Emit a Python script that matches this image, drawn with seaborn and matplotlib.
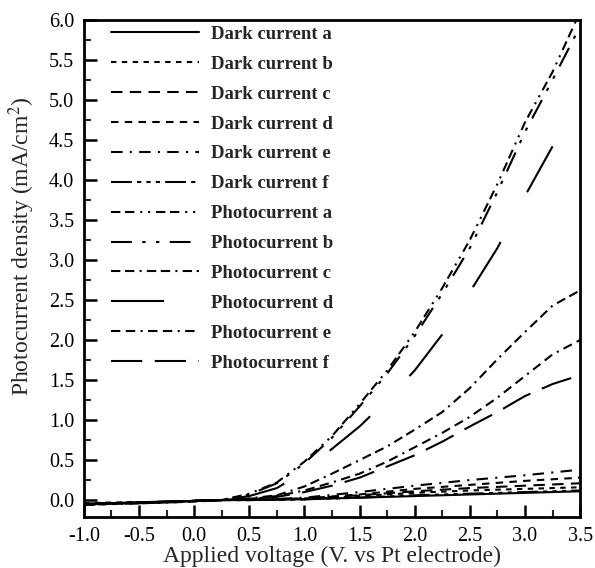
import matplotlib
matplotlib.use("Agg")
import matplotlib.pyplot as plt
from matplotlib.ticker import MultipleLocator
import numpy as np
import pandas as pd
import seaborn as sns

# Applied voltage (V vs Pt electrode)
voltage = [-1.0, -0.75, -0.5, -0.25, 0.0, 0.25, 0.5, 0.75, 1.0, 1.25,
           1.5, 1.75, 2.0, 2.25, 2.5, 2.75, 3.0, 3.25, 3.5]

# Dark current densities (mA/cm2)
dark_a = [-0.05, -0.04, -0.03, -0.02, -0.01, 0.0, 0.0, 0.005, 0.01, 0.02,
          0.03, 0.04, 0.05, 0.06, 0.07, 0.08, 0.09, 0.10, 0.11]
dark_b = [-0.04, -0.03, -0.025, -0.02, -0.01, 0.0, 0.0, 0.005, 0.01, 0.03,
          0.05, 0.07, 0.09, 0.105, 0.12, 0.13, 0.14, 0.15, 0.16]
dark_c = [-0.06, -0.045, -0.035, -0.02, -0.01, 0.0, 0.005, 0.01, 0.02, 0.04,
          0.06, 0.085, 0.11, 0.13, 0.15, 0.165, 0.18, 0.195, 0.21]
dark_d = [-0.05, -0.04, -0.03, -0.02, -0.01, 0.0, 0.005, 0.01, 0.02, 0.045,
          0.07, 0.105, 0.14, 0.165, 0.19, 0.215, 0.24, 0.26, 0.28]
dark_e = [-0.06, -0.05, -0.035, -0.025, -0.01, 0.0, 0.005, 0.015, 0.03, 0.065,
          0.10, 0.14, 0.18, 0.215, 0.25, 0.28, 0.31, 0.345, 0.38]
dark_f = [-0.05, -0.04, -0.03, -0.02, -0.01, 0.0, 0.0, 0.005, 0.01, 0.02,
          0.03, 0.045, 0.06, 0.07, 0.08, 0.09, 0.10, 0.11, 0.12]

# Photocurrent densities under illumination (mA/cm2)
photo_a = [-0.06, -0.05, -0.04, -0.03, -0.02, 0.0, 0.08, 0.22, 0.48, 0.80,
           1.20, 1.62, 2.10, 2.65, 3.25, 3.95, 4.72, 5.35, 6.10]
photo_b = [-0.05, -0.045, -0.035, -0.025, -0.015, 0.0, 0.07, 0.21, 0.46, 0.78,
           1.17, 1.58, 2.05, 2.58, 3.15, 3.85, 4.60, 5.25, 5.92]
photo_c = [-0.05, -0.04, -0.03, -0.02, -0.01, 0.0, 0.02, 0.06, 0.17, 0.33,
           0.50, 0.67, 0.88, 1.10, 1.40, 1.76, 2.10, 2.43, 2.62]
photo_d = [-0.06, -0.05, -0.04, -0.03, -0.02, 0.0, 0.05, 0.15, 0.36, 0.64,
           0.92, 1.25, 1.62, 2.07, 2.60, 3.15, 3.80, 4.42, np.nan]
photo_e = [-0.05, -0.04, -0.03, -0.02, -0.01, 0.0, 0.015, 0.05, 0.12, 0.22,
           0.33, 0.48, 0.66, 0.84, 1.04, 1.28, 1.55, 1.82, 2.00]
photo_f = [-0.05, -0.04, -0.03, -0.02, -0.01, 0.0, 0.015, 0.04, 0.10, 0.18,
           0.28, 0.42, 0.56, 0.73, 0.92, 1.10, 1.30, 1.45, 1.56]

labels = ["Dark current a", "Dark current b", "Dark current c",
          "Dark current d", "Dark current e", "Dark current f",
          "Photocurrent a", "Photocurrent b", "Photocurrent c",
          "Photocurrent d", "Photocurrent e", "Photocurrent f"]
series = [dark_a, dark_b, dark_c, dark_d, dark_e, dark_f,
          photo_a, photo_b, photo_c, photo_d, photo_e, photo_f]

frames = []
for lab, vals in zip(labels, series):
    frames.append(pd.DataFrame({"voltage": voltage, "current": vals, "curve": lab}))
df = pd.concat(frames, ignore_index=True).dropna()

dash_styles = {
    "Dark current a": "",
    "Dark current b": (2.6, 2.6),
    "Dark current c": (5.5, 3.5),
    "Dark current d": (3.6, 3.0),
    "Dark current e": (5.5, 3.5, 1.0, 3.5),
    "Dark current f": (10, 2.5, 2.0, 2.5, 2.0, 2.5, 2.0, 2.5),
    "Photocurrent a": (4.5, 2.2, 4.5, 2.8, 1.0, 2.8, 1.0, 2.8),
    "Photocurrent b": (10, 5, 1.6, 5, 1.6, 5),
    "Photocurrent c": (4.5, 2.2, 4.5, 2.5, 1.0, 2.5),
    "Photocurrent d": (25.5, 27),
    "Photocurrent e": (4.5, 2.6, 4.5, 2.6, 1.0, 2.6),
    "Photocurrent f": (15, 6),
}

sns.set_theme(style="ticks")
plt.rcParams["font.family"] = ["Liberation Serif", "DejaVu Serif"]
plt.rcParams["mathtext.fontset"] = "stix"

fig = plt.figure(figsize=(5.95, 5.68), dpi=100)
ax = fig.add_axes([0.141, 0.090, 0.834, 0.875])

sns.lineplot(data=df, x="voltage", y="current", hue="curve", style="curve",
             hue_order=labels, style_order=labels,
             palette=["black"] * len(labels), dashes=dash_styles,
             linewidth=1.5, ax=ax, sort=False, estimator=None)

ax.set_xlim(-1.0, 3.5)
ax.set_ylim(-0.21, 6.0)
ax.xaxis.set_major_locator(MultipleLocator(0.5))
ax.xaxis.set_minor_locator(MultipleLocator(0.25))
ax.yaxis.set_major_locator(MultipleLocator(0.5))
ax.yaxis.set_minor_locator(MultipleLocator(0.25))
ax.tick_params(which="major", direction="in", length=9, width=1.8,
               labelsize=14.5, pad=7, top=False, right=False, colors="black")
ax.tick_params(which="minor", direction="in", length=5, width=1.5,
               top=False, right=False)
ax.set_xticklabels([f"{v:.1f}" for v in ax.get_xticks()])
ax.set_yticklabels([f"{v:.1f}" for v in ax.get_yticks()])
for sp in ax.spines.values():
    sp.set_linewidth(2.0)
    sp.set_color("black")

ax.set_xlabel("Applied voltage (V. vs Pt electrode)", fontsize=17, labelpad=0)
ax.set_ylabel("Photocurrent density (mA/cm$^2$)", fontsize=17)
ax.yaxis.set_label_coords(-0.095, 0.544)

ax.legend(loc="upper left", bbox_to_anchor=(0.02, 1.022), frameon=False,
          handlelength=4.7, handletextpad=0.64, labelspacing=0.68,
          prop={"weight": "bold", "size": 13.5, "family": "Liberation Serif"})

# Shift the phase of the long-dash curve so its dashes fall along the rising part
for line in ax.lines:
    yd = np.asarray(line.get_ydata(), dtype=float)
    if len(yd) == 18 and np.isclose(yd[-1], photo_d[17]):
        line.set_linestyle((33, (25.5, 27)))

fig.savefig("out.png", dpi=100)
